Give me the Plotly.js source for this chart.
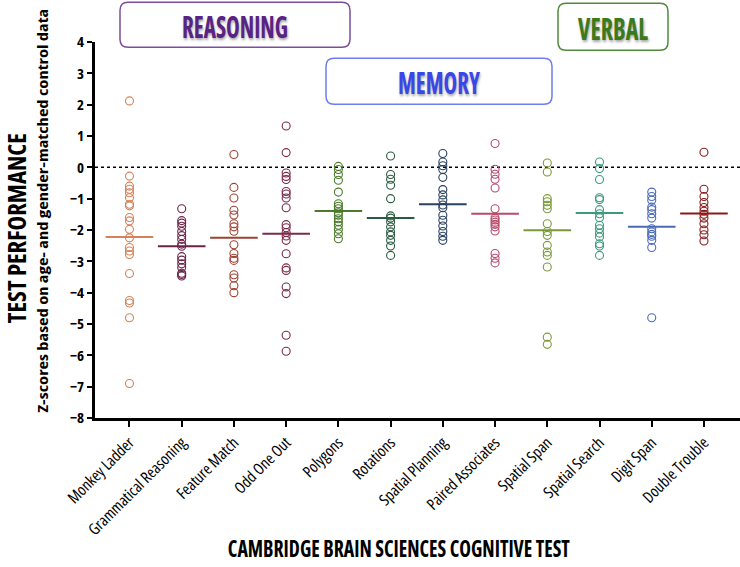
<!DOCTYPE html>
<html>
<head>
<meta charset="utf-8">
<script src="https://cdn.plot.ly/plotly-3.0.1.min.js"></script>
<style>html,body{margin:0;padding:0;background:#fff;}#chart{width:740px;height:567px;}</style>
</head>
<body>
<div id="chart"></div>
<script>
const categories = ['Monkey Ladder','Grammatical Reasoning','Feature Match','Odd One Out','Polygons','Rotations','Spatial Planning','Paired Associates','Spatial Span','Spatial Search','Digit Span','Double Trouble'];

const monkeyLadder = [2.12,-0.28,-0.60,-0.70,-0.81,-0.97,-1.18,-1.23,-1.60,-1.71,-1.98,-2.25,-2.56,-2.67,-2.78,-3.39,-4.25,-4.33,-4.80,-6.90];
const grammaticalReasoning = [-1.32,-1.70,-1.78,-1.88,-2.05,-2.18,-2.30,-2.45,-2.52,-2.85,-2.96,-3.08,-3.20,-3.38,-3.42,-3.47];
const featureMatch = [0.41,-0.64,-0.98,-1.37,-1.52,-1.80,-1.90,-2.04,-2.47,-2.75,-2.90,-2.97,-3.43,-3.53,-3.78,-4.00];
const oddOneOut = [1.32,0.47,-0.18,-0.29,-0.39,-0.77,-0.85,-0.98,-1.29,-1.83,-1.93,-2.08,-2.19,-2.33,-2.76,-3.21,-3.29,-3.82,-4.03,-5.36,-5.87];
const polygons = [0.03,-0.07,-0.23,-0.41,-0.79,-1.16,-1.24,-1.32,-1.45,-1.53,-1.64,-1.74,-1.85,-1.98,-2.12,-2.28];
const rotations = [0.36,-0.23,-0.38,-0.57,-1.00,-1.55,-1.62,-1.74,-1.90,-2.06,-2.17,-2.33,-2.51,-2.81];
const spatialPlanning = [0.44,0.17,0.05,-0.07,-0.32,-0.71,-0.88,-1.04,-1.20,-1.29,-1.53,-1.69,-1.87,-2.05,-2.20,-2.33];
const pairedAssociates = [0.76,-0.06,-0.22,-0.38,-0.66,-1.32,-1.62,-1.68,-1.75,-1.82,-1.90,-2.03,-2.75,-2.90,-3.05];
const spatialSpan = [0.14,-0.15,-1.00,-1.10,-1.21,-1.32,-1.80,-2.05,-2.17,-2.49,-2.70,-2.81,-3.18,-5.42,-5.65];
const spatialSearch = [0.17,-0.04,-0.39,-0.97,-1.03,-1.35,-1.48,-1.61,-1.85,-1.96,-2.10,-2.22,-2.44,-2.51,-2.81];
const digitSpan = [-0.79,-0.93,-1.05,-1.27,-1.35,-1.48,-1.62,-1.96,-2.06,-2.14,-2.20,-2.33,-2.56,-4.80];
const doubleTrouble = [0.48,-0.70,-0.93,-1.12,-1.28,-1.40,-1.50,-1.62,-1.80,-2.00,-2.15,-2.35];

const meanValues = [-2.22,-2.52,-2.25,-2.12,-1.39,-1.62,-1.18,-1.48,-2.01,-1.46,-1.90,-1.47];

const colors = ['#d4825a','#6a2348','#a04232','#7a2a4a','#4a7a2a','#2a5a40','#2a4060','#b84a6a','#7a9a3a','#3a9a7a','#4a6ab8','#8a1a1a'];

const groups = [monkeyLadder,grammaticalReasoning,featureMatch,oddOneOut,polygons,rotations,spatialPlanning,pairedAssociates,spatialSpan,spatialSearch,digitSpan,doubleTrouble];

// ---- pick an installed font that has a condensed face (the original uses a condensed typeface)
const NS = 'http://www.w3.org/2000/svg';
function measureText(str, family, size, weight, stretch) {
  const svg = document.createElementNS(NS, 'svg');
  svg.setAttribute('width', '10'); svg.setAttribute('height', '10');
  svg.style.position = 'absolute'; svg.style.left = '-9999px';
  const t = document.createElementNS(NS, 'text');
  t.setAttribute('style', `font-family:${family};font-size:${size}px;font-weight:${weight};font-stretch:${stretch} !important`);
  t.textContent = str;
  svg.appendChild(t); document.body.appendChild(svg);
  const w = t.getComputedTextLength();
  svg.remove();
  return w;
}
const probe = 'CAMBRIDGE BRAIN SCIENCES COGNITIVE TEST';
let chosen = null, bestW = Infinity;
['Open Sans', 'Noto Sans', 'Roboto', 'DejaVu Sans', 'Liberation Sans'].forEach(f => {
  const fam = `'${f}', 'Liberation Sans', sans-serif`;
  const n = measureText(probe, fam, 20, 700, 'normal');
  const c = measureText(probe, fam, 20, 700, 'condensed');
  if (c / n < 0.92 && c < bestW) { bestW = c; chosen = fam; }
});
const CONDENSED = !!chosen;
const TFONT = chosen || "'Liberation Sans', Arial, sans-serif";
if (CONDENSED) {
  const st = document.createElement('style');
  st.textContent = 'svg text { font-stretch: condensed !important; }';
  document.head.appendChild(st);
}
const TICKREF = "'DejaVu Sans', sans-serif";

const traces = [];
groups.forEach((vals, i) => {
  traces.push({
    type: 'scatter', mode: 'markers',
    x: vals.map(() => categories[i]), y: vals,
    marker: {symbol: 'circle-open', size: 8, color: colors[i], line: {width: 1.1, color: colors[i]}},
    showlegend: false, hoverinfo: 'y'
  });
});
groups.forEach((vals, i) => {
  traces.push({
    type: 'scatter', mode: 'markers',
    x: [categories[i]], y: [meanValues[i]],
    marker: {symbol: 'line-ew', size: 34, color: colors[i], line: {width: 2, color: colors[i]}},
    showlegend: false, hoverinfo: 'y'
  });
});

// plot area in pixels
const L = 95, R = 740, T = 41.7, B = 417.7;
const px2x = p => (p - L) / (R - L);
const px2y = p => (B - p) / (B - T);
function roundRect(x0, y0, x1, y1, r) {
  const X = px2x, Y = px2y;
  return `M${X(x0+r)},${Y(y0)} H${X(x1-r)} Q${X(x1)},${Y(y0)} ${X(x1)},${Y(y0+r)} V${Y(y1-r)} Q${X(x1)},${Y(y1)} ${X(x1-r)},${Y(y1)} H${X(x0+r)} Q${X(x0)},${Y(y1)} ${X(x0)},${Y(y1-r)} V${Y(y0+r)} Q${X(x0)},${Y(y0)} ${X(x0+r)},${Y(y0)} Z`;
}

const boxes = [
  {label: 'REASONING', x0: 120, y0: 2, x1: 350, y1: 47, border: '#7d4d9c', text: '#5a2283', w: 106},
  {label: 'MEMORY', x0: 326, y0: 58, x1: 552, y1: 104, border: '#6e7cf0', text: '#3b46e8', w: 82},
  {label: 'VERBAL', x0: 558, y0: 3, x1: 668, y1: 50, border: '#4f8a3c', text: '#3a7a1c', w: 70}
];

const textWidths = {};

const shapes = [
  {type: 'line', xref: 'paper', yref: 'y', x0: 0, x1: 1, y0: 0, y1: 0, line: {color: '#000', width: 1.5, dash: 'dot'}, layer: 'below'}
];
const annotations = [];
boxes.forEach(b => {
  shapes.push({type: 'path', xref: 'paper', yref: 'paper', path: roundRect(b.x0, b.y0, b.x1, b.y1, 8), line: {color: b.border, width: 1.5}, fillcolor: 'rgba(255,255,255,0)'});
  annotations.push({xref: 'paper', yref: 'paper', x: px2x((b.x0 + b.x1) / 2), y: px2y((b.y0 + b.y1) / 2 + 1), text: b.label, showarrow: false, xanchor: 'center', yanchor: 'middle',
    font: {family: TFONT, size: 31, color: b.text, weight: 700, shadow: '1px 2px 3px rgba(0,0,0,0.35)'}});
  textWidths[b.label] = b.w;
});

const yTitle = 'TEST PERFORMANCE';
const ySubTitle = 'Z-scores based on age- and gender-matched control data';
const xTitle = 'CAMBRIDGE BRAIN SCIENCES COGNITIVE TEST';
textWidths[yTitle] = 190;
textWidths[ySubTitle] = 404;
textWidths[xTitle] = 342;

annotations.push({xref: 'paper', yref: 'paper', x: px2x(16), y: px2y(228), text: yTitle, textangle: -90, showarrow: false, xanchor: 'center', yanchor: 'middle', font: {family: TFONT, size: 24, color: '#000', weight: 700}});
annotations.push({xref: 'paper', yref: 'paper', x: px2x(42), y: px2y(211), text: ySubTitle, textangle: -90, showarrow: false, xanchor: 'center', yanchor: 'middle', font: {family: TFONT, size: CONDENSED ? 15 : 13.5, color: '#000', weight: 700}});
annotations.push({xref: 'paper', yref: 'paper', x: px2x(399), y: px2y(548), text: xTitle, showarrow: false, xanchor: 'center', yanchor: 'middle', font: {family: TFONT, size: 23, color: '#000', weight: 700}});

const layout = {
  width: 740, height: 567,
  margin: {l: L, r: 740 - R, t: T, b: 567 - B, pad: 0},
  paper_bgcolor: '#fff', plot_bgcolor: '#fff',
  showlegend: false,
  xaxis: {
    type: 'category', categoryorder: 'array', categoryarray: categories,
    range: [-0.66, 11.69], showgrid: false, zeroline: false,
    showline: true, linecolor: '#000', linewidth: 3,
    ticks: 'outside', ticklen: 6, tickwidth: 2, tickcolor: '#000',
    tickangle: -45, tickfont: {family: TFONT, size: 16, color: '#000', weight: 500}
  },
  yaxis: {
    range: [-8, 4], dtick: 1, showgrid: false, zeroline: false,
    showline: true, linecolor: '#000', linewidth: 3,
    ticks: 'outside', ticklen: 5, tickwidth: 2, tickcolor: '#000',
    tickfont: {family: TFONT, size: 15, color: '#000', weight: 700}
  },
  shapes: shapes,
  annotations: annotations
};

Plotly.newPlot('chart', traces, layout, {displayModeBar: false, staticPlot: true}).then(() => {
  document.querySelectorAll('#chart .annotation-text').forEach(t => {
    const w = textWidths[t.textContent];
    if (w) { t.setAttribute('textLength', w); t.setAttribute('lengthAdjust', 'spacingAndGlyphs'); }
  });
  document.querySelectorAll('#chart .xtick text').forEach(t => {
    const want = measureText(t.textContent, TICKREF, 14, 400, 'normal') * 0.82;
    const len = t.getComputedTextLength();
    if (len > want * 1.02) { t.setAttribute('textLength', want.toFixed(1)); t.setAttribute('lengthAdjust', 'spacingAndGlyphs'); }
  });
  document.querySelectorAll('#chart .ytick text').forEach(t => {
    const want = measureText(t.textContent, TICKREF, 14, 700, 'normal') * 0.75;
    const len = t.getComputedTextLength();
    if (len > want * 1.02) { t.setAttribute('textLength', want.toFixed(1)); t.setAttribute('lengthAdjust', 'spacingAndGlyphs'); }
  });
});
</script>
</body>
</html>
